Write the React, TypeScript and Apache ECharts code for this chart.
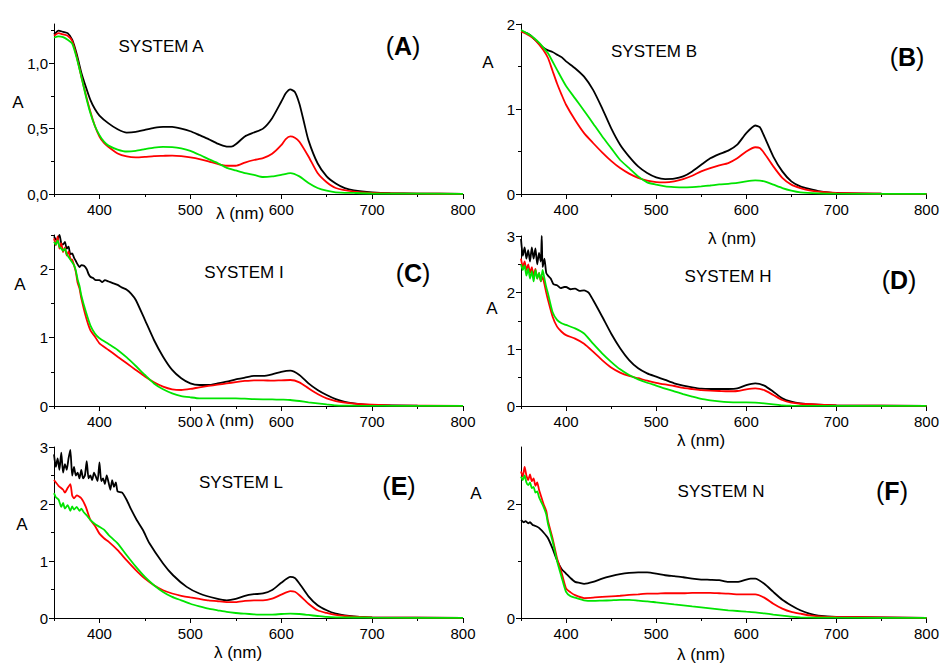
import React, { useEffect, useRef } from "react";
import * as echarts from "echarts";

type Pt = [number, number];

// ---------- Panel A : SYSTEM A ----------
const A_black: Pt[] = [[350,1.22],[355,1.25],[360,1.24],[365,1.23],[370,1.18],[375,1.07],[380,0.93],[385,0.82],[390,0.72],[395,0.65],[400,0.6],[410,0.54],[420,0.495],[430,0.47],[440,0.475],[450,0.49],[460,0.505],[470,0.513],[480,0.513],[490,0.5],[500,0.48],[510,0.45],[520,0.42],[530,0.385],[540,0.363],[545,0.362],[550,0.38],[560,0.44],[570,0.47],[580,0.5],[590,0.58],[600,0.705],[605,0.77],[610,0.8],[615,0.78],[620,0.69],[625,0.55],[630,0.41],[640,0.235],[650,0.135],[660,0.08],[670,0.045],[680,0.028],[700,0.013],[720,0.006],[750,0.003],[800,0.001]];
const A_red: Pt[] = [[350,1.21],[355,1.23],[360,1.22],[365,1.21],[370,1.17],[375,1.05],[380,0.9],[385,0.76],[390,0.63],[395,0.52],[400,0.44],[405,0.39],[410,0.36],[420,0.31],[430,0.287],[440,0.28],[450,0.284],[460,0.29],[470,0.292],[480,0.294],[490,0.29],[500,0.28],[510,0.267],[520,0.25],[530,0.23],[540,0.216],[550,0.216],[560,0.24],[570,0.26],[580,0.274],[590,0.307],[600,0.373],[605,0.42],[610,0.44],[615,0.43],[620,0.4],[630,0.287],[640,0.16],[650,0.09],[660,0.046],[680,0.018],[700,0.008],[750,0.003],[800,0.001]];
const A_green: Pt[] = [[350,1.195],[355,1.205],[360,1.2],[365,1.18],[370,1.15],[375,1.04],[380,0.9],[385,0.75],[390,0.62],[395,0.52],[400,0.45],[405,0.4],[410,0.37],[420,0.34],[430,0.325],[440,0.33],[450,0.343],[460,0.355],[470,0.36],[480,0.358],[490,0.348],[500,0.33],[510,0.3],[520,0.267],[530,0.236],[540,0.2],[550,0.18],[560,0.16],[570,0.147],[580,0.13],[590,0.135],[600,0.147],[610,0.16],[620,0.135],[630,0.084],[640,0.046],[650,0.025],[660,0.013],[680,0.008],[700,0.004],[800,0.001]];

// ---------- Panel B : SYSTEM B ----------
const B_black: Pt[] = [[350,1.91],[355,1.9],[360,1.87],[365,1.82],[370,1.77],[375,1.72],[380,1.69],[385,1.67],[390,1.64],[395,1.61],[400,1.56],[410,1.48],[420,1.38],[430,1.225],[440,1.01],[450,0.775],[460,0.58],[470,0.44],[480,0.325],[490,0.247],[500,0.196],[510,0.176],[520,0.18],[530,0.207],[540,0.266],[550,0.344],[560,0.42],[570,0.47],[580,0.51],[590,0.58],[600,0.716],[610,0.806],[615,0.787],[620,0.677],[630,0.44],[640,0.266],[650,0.149],[660,0.09],[670,0.059],[680,0.035],[700,0.012],[750,0.003],[800,0.001]];
const B_red: Pt[] = [[350,1.91],[355,1.89],[360,1.86],[365,1.82],[370,1.76],[375,1.69],[380,1.6],[385,1.45],[390,1.3],[395,1.17],[400,1.05],[410,0.87],[420,0.716],[430,0.6],[440,0.49],[450,0.39],[460,0.305],[470,0.24],[480,0.19],[490,0.157],[500,0.14],[510,0.137],[520,0.149],[530,0.176],[540,0.215],[550,0.266],[560,0.305],[570,0.337],[580,0.364],[590,0.42],[600,0.5],[610,0.55],[615,0.54],[620,0.48],[630,0.325],[640,0.19],[650,0.11],[660,0.07],[670,0.043],[680,0.027],[700,0.012],[750,0.003],[800,0.001]];
const B_green: Pt[] = [[350,1.93],[355,1.9],[360,1.87],[365,1.83],[370,1.78],[375,1.72],[380,1.655],[390,1.46],[400,1.27],[410,1.125],[420,0.98],[430,0.83],[440,0.68],[450,0.54],[460,0.4],[470,0.305],[480,0.207],[490,0.137],[500,0.11],[510,0.09],[520,0.082],[530,0.078],[540,0.082],[550,0.09],[560,0.1],[570,0.113],[580,0.12],[590,0.13],[600,0.149],[610,0.16],[620,0.149],[630,0.11],[640,0.07],[650,0.04],[660,0.02],[680,0.008],[700,0.004],[800,0.001]];

// ---------- Panel C : SYSTEM I ----------
const C_black: Pt[] = [[350,2.48],[353,2.42],[356,2.5],[358,2.38],[360,2.36],[362,2.4],[364,2.3],[366,2.33],[368,2.22],[370,2.23],[372,2.17],[374,2.12],[376,2.07],[378,2.03],[380,2.06],[383,2.05],[386,2.0],[388,1.93],[390,1.89],[393,1.87],[396,1.84],[400,1.84],[403,1.81],[406,1.84],[410,1.82],[414,1.8],[420,1.77],[425,1.73],[430,1.7],[435,1.64],[440,1.55],[450,1.26],[460,0.965],[470,0.72],[480,0.527],[490,0.405],[500,0.33],[510,0.307],[520,0.307],[530,0.33],[540,0.356],[550,0.39],[560,0.415],[570,0.44],[580,0.44],[590,0.463],[600,0.5],[610,0.517],[620,0.454],[630,0.33],[640,0.234],[650,0.16],[660,0.1],[670,0.059],[680,0.039],[700,0.015],[750,0.005],[800,0.001]];
const C_red: Pt[] = [[350,2.45],[352,2.35],[354,2.48],[356,2.3],[358,2.38],[360,2.25],[362,2.32],[364,2.2],[366,2.26],[368,2.15],[370,2.14],[372,2.06],[374,1.96],[376,1.8],[378,1.72],[380,1.58],[385,1.31],[390,1.11],[395,1.015],[400,0.917],[410,0.82],[420,0.72],[430,0.624],[440,0.527],[450,0.43],[460,0.346],[470,0.283],[480,0.244],[490,0.234],[500,0.249],[510,0.273],[520,0.293],[530,0.312],[540,0.33],[550,0.35],[560,0.366],[570,0.376],[580,0.376],[590,0.37],[600,0.376],[610,0.38],[620,0.346],[630,0.259],[640,0.176],[650,0.112],[660,0.073],[670,0.049],[680,0.034],[700,0.02],[720,0.01],[800,0.001]];
const C_green: Pt[] = [[350,2.4],[352,2.36],[354,2.42],[356,2.33],[358,2.3],[360,2.27],[362,2.3],[364,2.22],[366,2.18],[368,2.14],[370,2.1],[372,2.06],[374,1.98],[376,1.85],[378,1.76],[380,1.62],[385,1.38],[390,1.18],[395,1.06],[400,0.99],[410,0.907],[420,0.82],[430,0.71],[440,0.585],[450,0.454],[460,0.33],[470,0.244],[480,0.185],[490,0.146],[500,0.127],[510,0.112],[520,0.112],[530,0.112],[540,0.112],[550,0.112],[560,0.107],[570,0.1],[580,0.098],[590,0.098],[600,0.093],[610,0.088],[620,0.073],[630,0.054],[640,0.039],[650,0.024],[660,0.01],[680,0.005],[800,0.001]];

// ---------- Panel D : SYSTEM H ----------
const D_black: Pt[] = [[350,2.95],[352,2.65],[354,2.8],[356,2.6],[358,2.75],[360,2.55],[362,2.8],[364,2.6],[366,2.78],[368,2.5],[370,2.7],[372,2.55],[373,3.0],[374,2.45],[376,2.6],[378,2.35],[380,2.3],[383,2.25],[386,2.15],[390,2.13],[394,2.08],[398,2.1],[400,2.1],[405,2.06],[410,2.07],[415,2.03],[420,2.04],[425,2.0],[430,1.87],[440,1.58],[450,1.28],[460,1.02],[470,0.81],[480,0.665],[490,0.576],[500,0.518],[510,0.46],[520,0.4],[530,0.36],[540,0.33],[550,0.306],[560,0.3],[570,0.3],[580,0.3],[590,0.31],[600,0.37],[610,0.4],[620,0.36],[630,0.253],[640,0.135],[650,0.076],[660,0.047],[680,0.024],[700,0.012],[800,0.001]];
const D_red: Pt[] = [[350,2.6],[352,2.45],[354,2.55],[356,2.4],[358,2.5],[360,2.35],[362,2.45],[364,2.3],[366,2.42],[368,2.25],[370,2.35],[372,2.2],[374,2.28],[376,2.15],[378,2.0],[380,1.87],[385,1.58],[390,1.4],[395,1.31],[400,1.25],[410,1.19],[420,1.1],[430,0.96],[440,0.81],[450,0.68],[460,0.59],[470,0.53],[480,0.49],[490,0.447],[500,0.41],[510,0.38],[520,0.353],[530,0.32],[540,0.3],[550,0.28],[560,0.27],[570,0.265],[580,0.26],[590,0.265],[600,0.294],[610,0.31],[620,0.28],[630,0.194],[640,0.106],[650,0.059],[660,0.04],[680,0.024],[700,0.012],[800,0.001]];
const D_green: Pt[] = [[350,2.5],[352,2.4],[354,2.48],[356,2.3],[358,2.42],[360,2.25],[362,2.38],[364,2.2],[366,2.4],[368,2.25],[370,2.35],[372,2.2],[374,2.4],[376,2.25],[378,2.1],[380,1.98],[385,1.66],[390,1.52],[395,1.46],[400,1.43],[410,1.37],[420,1.28],[430,1.1],[440,0.93],[450,0.78],[460,0.647],[470,0.547],[480,0.47],[490,0.41],[500,0.36],[510,0.306],[520,0.26],[530,0.21],[540,0.165],[550,0.124],[560,0.1],[570,0.082],[580,0.07],[590,0.065],[600,0.065],[610,0.06],[620,0.047],[630,0.03],[640,0.012],[650,0.006],[800,0.001]];

// ---------- Panel E : SYSTEM L ----------
const E_black: Pt[] = [[350,2.87],[352,2.65],[354,2.8],[356,2.6],[358,2.9],[360,2.55],[362,2.7],[364,2.6],[366,2.8],[368,2.95],[370,2.5],[372,2.65],[374,2.5],[376,2.55],[378,2.45],[380,2.6],[382,2.45],[384,2.5],[386,2.75],[388,2.45],[390,2.5],[392,2.42],[394,2.55],[396,2.48],[398,2.4],[400,2.73],[402,2.4],[404,2.45],[406,2.35],[408,2.5],[410,2.38],[412,2.25],[414,2.42],[416,2.3],[418,2.38],[420,2.22],[425,2.2],[430,2.07],[435,1.9],[441,1.72],[448,1.54],[455,1.31],[470,0.957],[481,0.75],[496,0.546],[510,0.43],[529,0.34],[540,0.31],[550,0.335],[560,0.39],[570,0.417],[580,0.43],[590,0.49],[600,0.617],[610,0.72],[615,0.7],[620,0.605],[630,0.38],[640,0.223],[650,0.135],[660,0.076],[670,0.047],[680,0.03],[700,0.012],[800,0.001]];
const E_red: Pt[] = [[350,2.42],[355,2.32],[360,2.25],[362,2.2],[365,2.28],[368,2.35],[370,2.15],[372,2.1],[375,2.15],[380,2.1],[385,1.95],[390,1.72],[395,1.62],[400,1.48],[405,1.4],[410,1.34],[420,1.19],[430,1.01],[440,0.84],[450,0.69],[460,0.575],[470,0.487],[480,0.43],[490,0.39],[500,0.36],[510,0.335],[520,0.31],[530,0.294],[540,0.28],[550,0.28],[560,0.3],[570,0.31],[580,0.31],[590,0.34],[600,0.41],[610,0.47],[615,0.46],[620,0.4],[630,0.25],[640,0.135],[650,0.088],[660,0.053],[670,0.035],[680,0.023],[700,0.012],[800,0.001]];
const E_green: Pt[] = [[350,2.19],[352,2.12],[355,2.08],[358,1.95],[360,2.02],[362,1.92],[365,1.98],[368,1.88],[370,1.96],[372,1.9],[375,1.95],[378,1.88],[380,1.92],[383,1.85],[386,1.8],[390,1.72],[395,1.65],[400,1.6],[405,1.55],[410,1.46],[420,1.31],[430,1.1],[440,0.9],[450,0.72],[460,0.575],[470,0.458],[480,0.37],[490,0.31],[500,0.25],[510,0.205],[520,0.164],[530,0.135],[540,0.106],[550,0.088],[560,0.076],[570,0.065],[580,0.059],[590,0.059],[600,0.07],[610,0.076],[620,0.07],[630,0.053],[640,0.035],[650,0.018],[660,0.012],[700,0.006],[800,0.001]];

// ---------- Panel F : SYSTEM N ----------
const F_black: Pt[] = [[350,1.72],[353,1.68],[355,1.7],[358,1.66],[360,1.68],[363,1.63],[365,1.62],[368,1.6],[370,1.58],[375,1.5],[380,1.4],[385,1.22],[390,1.01],[395,0.86],[400,0.78],[405,0.7],[410,0.633],[415,0.616],[420,0.6],[430,0.633],[440,0.69],[450,0.733],[460,0.768],[470,0.79],[480,0.8],[490,0.8],[500,0.78],[510,0.75],[520,0.733],[530,0.715],[540,0.69],[550,0.675],[560,0.67],[570,0.663],[580,0.633],[590,0.633],[600,0.675],[605,0.69],[610,0.69],[620,0.6],[630,0.457],[640,0.32],[650,0.22],[660,0.135],[670,0.076],[680,0.04],[700,0.018],[800,0.001]];
const F_red: Pt[] = [[350,2.57],[352,2.48],[354,2.65],[356,2.5],[358,2.42],[360,2.52],[362,2.4],[364,2.45],[366,2.32],[368,2.38],[370,2.25],[372,2.15],[375,2.0],[378,1.88],[380,1.7],[385,1.4],[390,1.05],[395,0.8],[400,0.52],[405,0.45],[410,0.4],[420,0.35],[430,0.357],[440,0.37],[450,0.38],[460,0.39],[470,0.405],[480,0.416],[490,0.428],[500,0.428],[510,0.434],[520,0.434],[530,0.434],[540,0.44],[550,0.44],[560,0.44],[570,0.434],[580,0.428],[590,0.416],[600,0.416],[610,0.416],[620,0.357],[630,0.25],[640,0.164],[650,0.106],[660,0.076],[670,0.047],[680,0.03],[700,0.018],[800,0.001]];
const F_green: Pt[] = [[350,2.48],[352,2.42],[354,2.5],[356,2.38],[358,2.33],[360,2.38],[362,2.28],[364,2.3],[366,2.2],[368,2.22],[370,2.12],[372,2.05],[375,1.95],[378,1.82],[380,1.65],[385,1.35],[390,1.0],[395,0.72],[400,0.457],[405,0.38],[410,0.357],[420,0.31],[430,0.3],[440,0.305],[450,0.31],[460,0.317],[470,0.317],[480,0.305],[490,0.293],[500,0.275],[510,0.258],[520,0.24],[530,0.223],[540,0.205],[550,0.188],[560,0.17],[570,0.152],[580,0.135],[590,0.123],[600,0.111],[610,0.1],[620,0.082],[630,0.059],[640,0.041],[650,0.023],[660,0.012],[700,0.006],[800,0.001]];

// ---------- Axis ticks / labels ----------
const X_MAJOR = [400, 500, 600, 700, 800];
const X_MINOR = [350, 450, 550, 650, 750];
const TITLES = ["SYSTEM A", "SYSTEM B", "SYSTEM I", "SYSTEM H", "SYSTEM L", "SYSTEM N"];
const LETTERS = ["A", "B", "C", "D", "E", "F"];
const Y_MAX = [1.3, 2, 2.5, 3, 3, 3];
const Y_MAJOR = [[0, 0.5, 1], [0, 1, 2], [0, 1, 2], [0, 1, 2, 3], [0, 1, 2, 3], [0, 2]];
const Y_MINOR = [[0.25, 0.75, 1.25], [0.5, 1.5], [0.5, 1.5, 2.5], [0.5, 1.5, 2.5], [0.5, 1.5, 2.5], [1]];
const SERIES_COLORS = ["#000000", "#ff0000", "#00e400"];
const PANEL_DATA: Pt[][][] = [
  [A_black, A_red, A_green],
  [B_black, B_red, B_green],
  [C_black, C_red, C_green],
  [D_black, D_red, D_green],
  [E_black, E_red, E_green],
  [F_black, F_red, F_green],
];

// layout (px)
const GRIDS = [
  { left: 54, top: 24, width: 409, height: 170 },
  { left: 521, top: 24, width: 409, height: 170 },
  { left: 54, top: 235, width: 409, height: 171 },
  { left: 521, top: 236, width: 409, height: 170 },
  { left: 54, top: 447, width: 409, height: 171 },
  { left: 521, top: 447, width: 409, height: 171 },
];
const TITLE_POS = [[161, 46], [654, 51], [244, 272], [728, 276], [241, 482], [721, 491]];
const LETTER_POS = [[403, 46], [907, 57], [413, 273], [899, 280], [399, 486], [892, 491]];
const YNAME_POS = [[18, 102], [488, 62], [20, 284], [492, 308], [22, 524], [476, 493]];
const XNAME_POS = [[240, 213], [732, 238], [230, 420], [701, 440], [238, 652], [701, 654]];

const FONT = "'Liberation Sans', Arial, Helvetica, sans-serif";

export default function App() {
  const ref = useRef<HTMLDivElement>(null);
  useEffect(() => {
    if (!ref.current) return;
    const chart = echarts.init(ref.current, undefined, { renderer: "svg" });
    const grid: any[] = [];
    const xAxis: any[] = [];
    const yAxis: any[] = [];
    const series: any[] = [];
    const graphic: any[] = [];
    GRIDS.forEach((g, i) => {
      grid.push({ ...g, containLabel: false, show: false });
      const axisLine = { show: true, onZero: false, lineStyle: { color: "#000", width: 1 } };
      xAxis.push({
        type: "value", gridIndex: i, min: 350, max: 800, position: "bottom",
        axisLine, splitLine: { show: false },
        axisTick: { show: true, length: 5, inside: false, customValues: X_MAJOR, lineStyle: { color: "#000" } },
        axisLabel: { show: true, customValues: X_MAJOR, fontSize: 15, color: "#000", fontFamily: FONT, margin: 8 },
      });
      xAxis.push({
        type: "value", gridIndex: i, min: 350, max: 800, position: "bottom",
        axisLine: { show: false, onZero: false }, splitLine: { show: false },
        axisTick: { show: true, length: 3, inside: false, customValues: X_MINOR, lineStyle: { color: "#000" } },
        axisLabel: { show: false },
      });
      const comma = i === 0;
      yAxis.push({
        type: "value", gridIndex: i, min: 0, max: Y_MAX[i], position: "left",
        axisLine, splitLine: { show: false },
        axisTick: { show: true, length: 5, inside: false, customValues: Y_MAJOR[i], lineStyle: { color: "#000" } },
        axisLabel: {
          show: true, customValues: Y_MAJOR[i], fontSize: 15, color: "#000", fontFamily: FONT, margin: 6,
          formatter: (v: number) => (comma ? v.toFixed(1).replace(".", ",") : String(v)),
        },
      });
      yAxis.push({
        type: "value", gridIndex: i, min: 0, max: Y_MAX[i], position: "left",
        axisLine: { show: false, onZero: false }, splitLine: { show: false },
        axisTick: { show: true, length: 3, inside: false, customValues: Y_MINOR[i], lineStyle: { color: "#000" } },
        axisLabel: { show: false },
      });
      PANEL_DATA[i].forEach((d, k) => {
        series.push({
          type: "line", xAxisIndex: 2 * i, yAxisIndex: 2 * i, data: d,
          showSymbol: false, smooth: 0.2, clip: true,
          lineStyle: { color: SERIES_COLORS[k], width: 1.8 },
          itemStyle: { color: SERIES_COLORS[k] },
          z: 2 + k,
        });
      });
      graphic.push({
        type: "text", x: TITLE_POS[i][0], y: TITLE_POS[i][1],
        style: { text: TITLES[i], font: `17px ${FONT}`, fill: "#000", textAlign: "center", textVerticalAlign: "middle" },
      });
      graphic.push({
        type: "text", x: LETTER_POS[i][0], y: LETTER_POS[i][1],
        style: {
          text: `{p|(}{b|${LETTERS[i]}}{p|)}`, fill: "#000", textAlign: "center", textVerticalAlign: "middle",
          rich: {
            p: { fontSize: 25, fontFamily: FONT, fill: "#000" },
            b: { fontSize: 25, fontFamily: FONT, fontWeight: "bold", fill: "#000" },
          },
        },
      });
      graphic.push({
        type: "text", x: YNAME_POS[i][0], y: YNAME_POS[i][1],
        style: { text: "A", font: `17px ${FONT}`, fill: "#000", textAlign: "center", textVerticalAlign: "middle" },
      });
      graphic.push({
        type: "text", x: XNAME_POS[i][0], y: XNAME_POS[i][1],
        style: { text: "λ (nm)", font: `17px ${FONT}`, fill: "#000", textAlign: "center", textVerticalAlign: "middle" },
      });
    });
    chart.setOption({
      animation: false,
      backgroundColor: "#ffffff",
      grid, xAxis, yAxis, series, graphic,
    });
    return () => chart.dispose();
  }, []);
  return (
    <div
      ref={ref}
      style={{ position: "absolute", left: 0, top: 0, width: 942, height: 664, background: "#fff" }}
    />
  );
}
